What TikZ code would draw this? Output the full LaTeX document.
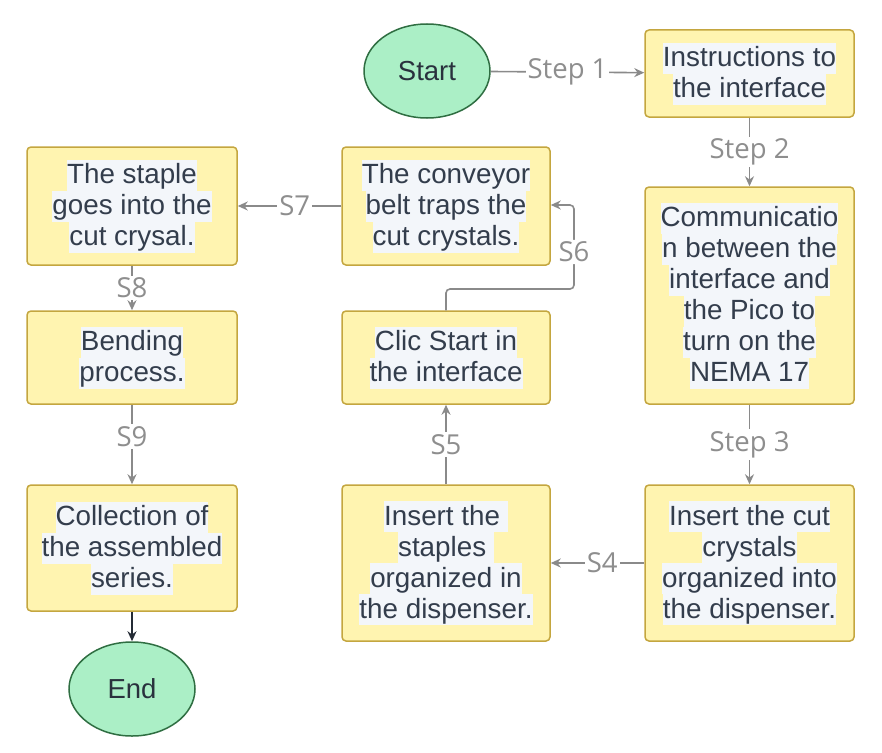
\documentclass[tikz,border=0pt]{standalone}
\usepackage{fontspec}
\setmainfont{Liberation Sans}
\newfontfamily\lblfont{Open Sans}
\usetikzlibrary{shapes.geometric,arrows.meta}
\definecolor{boxfill}{HTML}{FFF4B0}
\definecolor{boxborder}{HTML}{C4A63F}
\definecolor{termfill}{HTML}{ABEFC6}
\definecolor{termborder}{HTML}{2F6E42}
\definecolor{txtcol}{HTML}{333D4C}
\definecolor{hlbg}{HTML}{F3F6FA}
\definecolor{conncol}{HTML}{8A8A8A}
\definecolor{lblcol}{HTML}{8E8E8E}
\newcommand\mystrut{\rule[-7pt]{0pt}{31pt}}
\newcommand\hl[1]{{\setlength{\fboxsep}{0pt}\colorbox{hlbg}{\mystrut #1}}}
\tikzset{
  stepbox/.style={draw=boxborder, fill=boxfill, rounded corners=4pt, line width=1.5pt,
    inner sep=0pt, align=center, text=txtcol, font=\fontsize{27.8}{31}\selectfont},
  term/.style={ellipse, draw=termborder, fill=termfill, line width=1.5pt, inner sep=0pt,
    minimum width=126pt, minimum height=94pt, text=txtcol!80!black, font=\fontsize{27.5}{31}\selectfont},
  conn/.style={draw=conncol, line width=1.6pt, -{Stealth[length=10pt,width=9pt]}},
  lbl/.style={fill=white, inner sep=2pt, text=lblcol, font=\lblfont\fontsize{27.5}{31}\selectfont},
}
\begin{document}
\begin{tikzpicture}[x=1pt,y=-1pt]
\useasboundingbox (0,0) rectangle (882,752);
\node[term] (start) at (427,71) {Start};
\node[stepbox, minimum width=209pt, minimum height=87pt] (inst) at (749.5,73.5)
  {\hl{Instructions to}\\\hl{the interface}};
\node[stepbox, minimum width=209pt, minimum height=217pt] (comm) at (749.5,295.5)
  {\hl{Communicatio}\\\hl{n between the}\\\hl{interface and}\\\hl{the Pico to}\\\hl{turn on the}\\\hl{NEMA 17}};
\node[stepbox, minimum width=209pt, minimum height=156pt] (cut) at (749.5,563)
  {\hl{Insert the cut}\\\hl{crystals}\\\hl{organized into}\\\hl{the dispenser.}};
\node[stepbox, minimum width=208pt, minimum height=156pt] (stap) at (446,563)
  {\hl{Insert the }\\\hl{staples }\\\hl{organized in}\\\hl{the dispenser.}};
\node[stepbox, minimum width=208pt, minimum height=93pt] (clic) at (446,357.5)
  {\hl{Clic Start in}\\\hl{the interface}};
\node[stepbox, minimum width=208pt, minimum height=118pt] (conv) at (446,206)
  {\hl{The conveyor}\\\hl{belt traps the}\\\hl{cut crystals.}};
\node[stepbox, minimum width=210pt, minimum height=118pt] (stin) at (132,206)
  {\hl{The staple}\\\hl{goes into the}\\\hl{cut crysal.}};
\node[stepbox, minimum width=210pt, minimum height=93pt] (bend) at (132,357.5)
  {\hl{Bending}\\\hl{process.}};
\node[stepbox, minimum width=210pt, minimum height=126pt] (coll) at (132,548)
  {\hl{Collection of}\\\hl{the assembled}\\\hl{series.}};
\node[term] (end) at (132,689) {End};

\coordinate (c6a) at (446,289);
\coordinate (c6b) at (574,289);
\coordinate (c6c) at (574,205);

\draw[conn] (start) -- node[lbl]{Step 1} (inst);
\draw[conn] (inst) -- node[lbl]{Step 2} (comm);
\draw[conn] (comm) -- node[lbl]{Step 3} (cut);
\draw[conn] (cut) -- node[lbl, pos=0.45]{S4} (stap);
\draw[conn] (stap) -- node[lbl]{S5} (clic);
\draw[conn, rounded corners=4pt] (clic.north) -- (c6a) -- (c6b) -- node[lbl, pos=0.44]{S6} (c6c) -- (conv.east |- c6c);
\draw[conn] (conv) -- node[lbl, pos=0.45]{S7} (stin);
\draw[conn] (stin) -- node[lbl]{S8} (bend);
\draw[conn] (bend) -- node[lbl, pos=0.4]{S9} (coll);
\draw[line width=1.6pt, draw=txtcol!70!black, -{Stealth[length=10pt,width=9pt]}] (coll) -- (end);
\end{tikzpicture}
\end{document}
